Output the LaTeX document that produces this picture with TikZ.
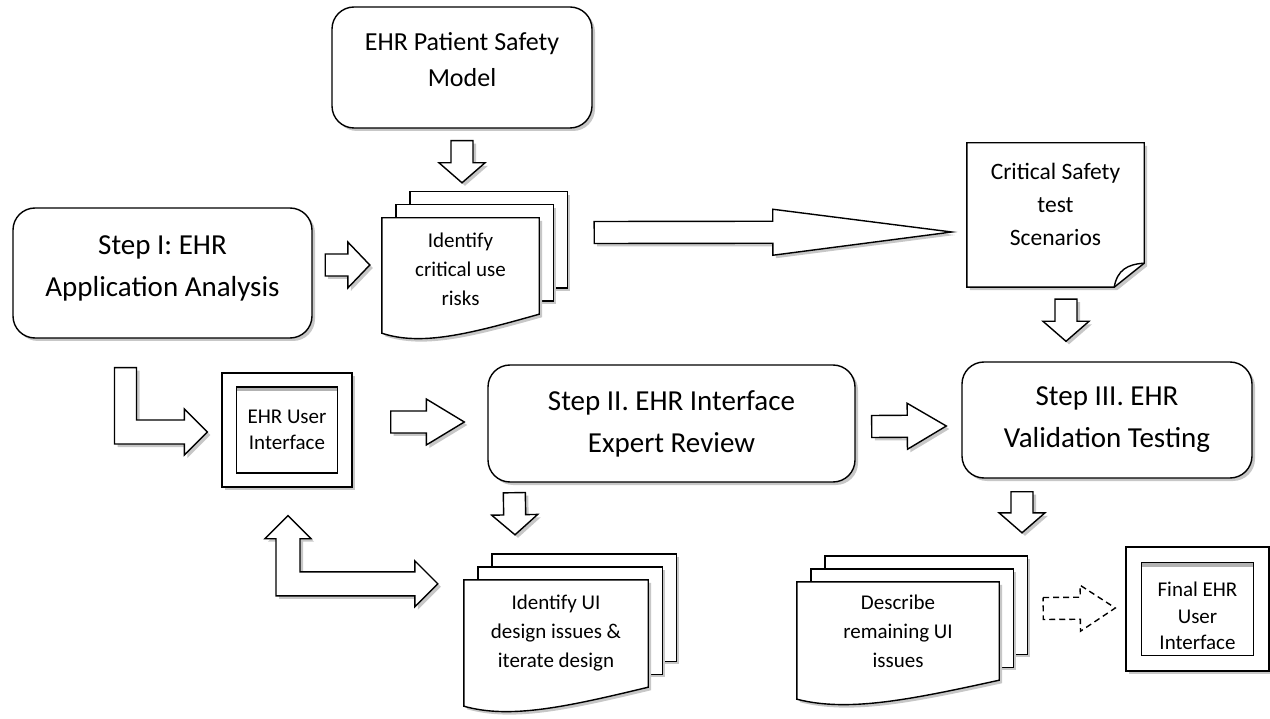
\documentclass[tikz,border=0pt]{standalone}
\usepackage{fontspec}
\setmainfont{Carlito}
\usetikzlibrary{calc, shadows, backgrounds}
\newcommand\bigtxt{\fontsize{29}{42}\selectfont}
\newcommand\midtxt{\fontsize{26}{36}\selectfont}
\newcommand\smalltxt{\fontsize{21}{29}\selectfont}
\newcommand\frametxt{\fontsize{21}{25.5}\selectfont}
\newcommand\notetxt{\fontsize{23.5}{33}\selectfont}

\tikzset{
  shdw/.style={drop shadow={shadow xshift=3pt, shadow yshift=-3pt, fill=black!22, opacity=1}},
  outline/.style={draw, line width=1.4pt, fill=white},
  stepbox/.style={outline, shdw, rounded corners=22pt, align=center, font=\bigtxt},
  frame/.style={outline, shdw},
  framein/.style={outline, align=center, font=\frametxt,
    path picture={\fill[black!30] (path picture bounding box.north west) rectangle ([yshift=-4pt]path picture bounding box.north east);}},
  doctext/.style={align=center, font=\smalltxt},
  page/.style={outline, shdw},
  blockarrow/.style={outline, shdw},
  dasharrow/.style={draw, line width=1.4pt, dash pattern=on 6pt off 4pt}
}

% block arrow: [style]{start}{tip}{head length}
\newcommand\barrow[4][blockarrow]{%
  \coordinate (ba-s) at (#2);
  \coordinate (ba-t) at (#3);
  \coordinate (ba-n) at ($(ba-t)!#4!(ba-s)$);
  \draw[#1] ($(ba-s)!11pt!90:(ba-t)$) -- ($(ba-n)!11pt!90:(ba-t)$) -- ($(ba-n)!23pt!90:(ba-t)$) -- (ba-t)
    -- ($(ba-n)!23pt!-90:(ba-t)$) -- ($(ba-n)!11pt!-90:(ba-t)$) -- ($(ba-s)!11pt!-90:(ba-t)$) -- cycle;
}

% stacked pages behind a document node
\newcommand\docpages[1]{%
  \foreach \k in {2,1}
    \draw[page] ($(#1.north west)+(14*\k,-13*\k)$) rectangle ($(#1.south east)+(14*\k,-13*\k)$);
  \draw[page] let \p1=(#1.south west), \p2=(#1.south east), \n1={\x2-\x1} in
    (#1.south east) -- (#1.north east) -- (#1.north west) -- ($(#1.south west)+(0,19)$)
    .. controls +(0.25*\n1,13) and +(-0.45*\n1,20) .. (#1.south east) -- cycle;
}

\begin{document}
\begin{tikzpicture}[x=1pt, y=-1pt]
  \useasboundingbox (0,0) rectangle (1270,719);
  % Steps
  \node[stepbox, font=\midtxt, minimum width=260, minimum height=121, text depth=15pt] (patient) at (462,67.5) {EHR Patient Safety\\Model};
  \node[stepbox, minimum width=299, minimum height=130, text depth=14pt] (stepI) at (162.5,273) {Step I: EHR\\Application Analysis};
  \node[stepbox, minimum width=367, minimum height=117] (stepII) at (671.5,423.5) {Step II. EHR Interface\\Expert Review};
  \node[stepbox, minimum width=290, minimum height=116] (stepIII) at (1107,420) {Step III. EHR\\Validation Testing};
  % Interfaces
  \node[frame, minimum width=130, minimum height=114] (ui) at (287,430) {};
  \node[framein, minimum width=101, minimum height=86] (ui-in) at (ui) {EHR User\\Interface};
  \node[frame, minimum width=143, minimum height=124] (final) at (1197.5,609) {};
  \node[framein, font=\fontsize{21}{26.5}\selectfont, minimum width=112, minimum height=93, text height=82pt] (final-in) at (final) {Final EHR\\User\\Interface};
  % Documents
  \node[doctext, minimum width=157, minimum height=96, text height=79pt] (risks) at (460.5,266) {Identify\\critical use\\risks};
  \node[doctext, minimum width=184, minimum height=107] (uiiss) at (556,633.5) {Identify UI\\design issues \&\\iterate design};
  \node[doctext, minimum width=202, minimum height=98] (remain) at (898,631) {Describe\\remaining UI\\issues};
  \node[align=center, font=\notetxt, minimum width=177, minimum height=144, text depth=22pt] (crit) at (1055.5,215) {Critical Safety\\test\\Scenarios};
  \begin{scope}[on background layer]
    \docpages{risks}
    \docpages{uiiss}
    \docpages{remain}
    \draw[page] (crit.north west) -- (crit.north east) -- ($(crit.south east)+(0,-24)$)
      -- ($(crit.south east)+(-30,0)$) -- (crit.south west) -- cycle;
  \end{scope}
  \draw[line width=1.4pt] ($(crit.south east)+(-30,0)$) .. controls +(3,-17) and +(-17,1) .. ($(crit.south east)+(0,-24)$);
  % Block arrows
  \barrow{$(patient.south)+(0,12)$}{$(patient.south |- risks.north)+(0,-35)$}{20pt}
  \barrow{$(stepI.east)+(12.5,-8)$}{$(risks.west)+(-12,-1)$}{22pt}
  \barrow{$(risks.east)+(55,-33.5)$}{$(crit.west)+(-15,17)$}{179pt}
  \barrow{$(crit.south)+(10.5,12)$}{$(stepIII.north)+(-41,-20)$}{20pt}
  \barrow{$(ui.east)+(38,-8)$}{$(stepII.west)+(-23,-1.5)$}{38pt}
  \barrow{$(stepII.east)+(16,3)$}{$(stepIII.west)+(-15,6)$}{39pt}
  \barrow{$(stepII.south west)+(27,10)$}{$(uiiss.north)+(-41,-45)$}{20pt}
  \barrow{$(stepIII.south)+(-85,13)$}{$(remain.north)+(124,-49)$}{20pt}
  \barrow[dasharrow]{$(remain.east)+(44,-22.5)$}{$(final.west)+(-10,-1)$}{35pt}
  % Step I down to the interface
  \coordinate (l-s) at ($(stepI.south)+(-37,29)$);
  \coordinate (l-t) at ($(ui.west)+(-14,2)$);
  \draw[blockarrow] let \p1=(l-s), \p2=(l-t) in
    (\x1-11pt,\y1) -- (\x1+11pt,\y1) -- (\x1+11pt,\y2+12pt) -- (\x2-23pt,\y2+12pt) -- (\x2-23pt,\y2+23pt) -- (\p2)
    -- (\x2-23pt,\y2-23pt) -- (\x2-23pt,\y2-12pt) -- (\x1-11pt,\y2-12pt) -- cycle;
  % Interface <-> design issues
  \coordinate (d-u) at ($(ui.south)+(1,28)$);
  \coordinate (d-r) at ($(uiiss.north west)+(-26,4)$);
  \draw[blockarrow] let \p1=(d-u), \p2=(d-r) in
    (\p1) -- (\x1+23pt,\y1-23pt) -- (\x1+12pt,\y1-23pt) -- (\x1+12pt,\y2+12pt) -- (\x2-23pt,\y2+12pt)
    -- (\x2-23pt,\y2+23pt) -- (\p2) -- (\x2-23pt,\y2-23pt) -- (\x2-23pt,\y2-12pt) -- (\x1-12pt,\y2-12pt)
    -- (\x1-12pt,\y1-23pt) -- (\x1-23pt,\y1-23pt) -- cycle;
\end{tikzpicture}
\end{document}
